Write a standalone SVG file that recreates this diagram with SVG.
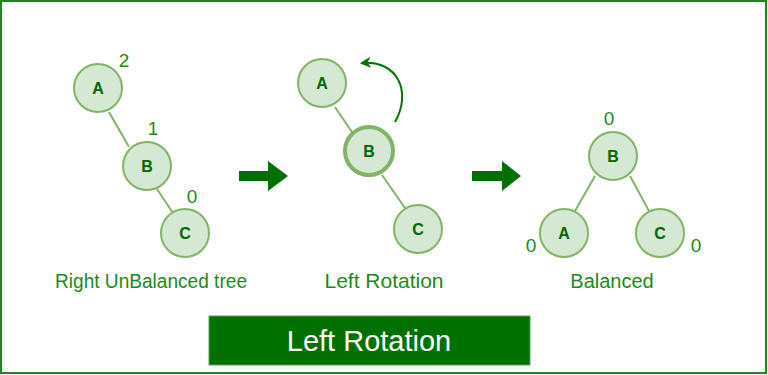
<svg xmlns="http://www.w3.org/2000/svg" width="768" height="375" viewBox="0 0 768 375">
<defs>
<style>
.node circle{fill:#d5e8d4;stroke:#82b366;stroke-width:2}
.node text{font-family:"Liberation Sans",Arial,sans-serif;font-size:16px;font-weight:bold;fill:#006600;text-anchor:middle}
.edge{stroke:#82b366;stroke-width:2;fill:none}
.num{font-family:"Liberation Sans",Arial,sans-serif;font-size:19px;fill:#1a8a1a;text-anchor:middle}
.cap{font-family:"Liberation Sans",Arial,sans-serif;font-size:20px;fill:#1a8a1a;text-anchor:middle}
.big{fill:#007000}
</style>
<marker id="ah" viewBox="0 0 10 10" refX="8" refY="5" markerWidth="11" markerHeight="11" orient="auto" markerUnits="userSpaceOnUse">
<path d="M0,0 L10,5 L0,10 L3,5 z" fill="#007000"/>
</marker>
</defs>
<rect x="1" y="1" width="765" height="372" fill="#ffffff" stroke="#1a8a1a" stroke-width="2"/>

<g id="connectors">
<line class="edge" x1="109" y1="112" x2="129" y2="147"/>
<line class="edge" x1="157" y1="189" x2="173" y2="213"/>
<line class="edge" x1="335" y1="107" x2="352" y2="132"/>
<line class="edge" x1="382" y1="175" x2="405" y2="208"/>
<line class="edge" x1="595" y1="176" x2="575" y2="211"/>
<line class="edge" x1="630" y1="176" x2="649" y2="211"/>
<path d="M395,122 C412,92 398,60 362,63" fill="none" stroke="#007000" stroke-width="2" marker-end="url(#ah)"/>
<polygon class="big" points="239,171 268,171 268,161 288,176 268,191 268,181 239,181"/>
<polygon class="big" points="472,171 502,171 502,161 521,176 502,191 502,181 472,181"/>
</g>

<g id="t1A" class="node"><circle cx="98" cy="88" r="24"/><text x="98" y="94">A</text></g>
<g id="t1B" class="node"><circle cx="147" cy="166" r="24"/><text x="147" y="172">B</text></g>
<g id="t1C" class="node"><circle cx="185" cy="233" r="24"/><text x="185" y="239">C</text></g>

<g id="t2A" class="node"><circle cx="322" cy="83" r="24"/><text x="322" y="89">A</text></g>
<g id="t2B" class="node"><circle cx="369" cy="151" r="24" style="stroke-width:4"/><text x="369" y="157">B</text></g>
<g id="t2C" class="node"><circle cx="418" cy="229" r="24"/><text x="418" y="235">C</text></g>

<g id="t3B" class="node"><circle cx="613" cy="156" r="24"/><text x="613" y="162">B</text></g>
<g id="t3A" class="node"><circle cx="564" cy="233" r="24"/><text x="564" y="239">A</text></g>
<g id="t3C" class="node"><circle cx="660" cy="233" r="24"/><text x="660" y="239">C</text></g>

<text class="num" x="124" y="67">2</text>
<text class="num" x="153" y="135">1</text>
<text class="num" x="192" y="203">0</text>
<text class="num" x="609" y="125">0</text>
<text class="num" x="531" y="252">0</text>
<text class="num" x="696" y="252">0</text>

<text class="cap" x="151" y="288" textLength="192" lengthAdjust="spacingAndGlyphs">Right UnBalanced tree</text>
<text class="cap" x="384" y="288" style="font-size:21px">Left Rotation</text>
<text class="cap" x="612" y="288">Balanced</text>

<g id="banner">
<rect x="209" y="316" width="321" height="49" fill="#007000" stroke="#5aa05a" stroke-width="1"/>
<text x="369" y="351" font-family="'Liberation Sans',Arial,sans-serif" font-size="29" fill="#ffffff" text-anchor="middle">Left Rotation</text>
</g>
</svg>
